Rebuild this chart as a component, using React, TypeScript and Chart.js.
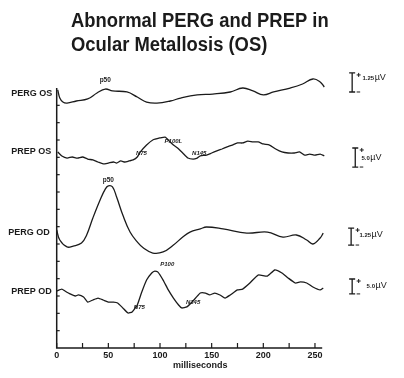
import React, { useEffect, useRef } from "react";
import { Chart, registerables } from "chart.js";

Chart.register(...registerables);

// ---- data (x in milliseconds, y in axis-tick units from the x-axis) ----
const pergOsMs = [1, 3, 6, 10, 19, 30, 39, 47, 54, 68, 78, 87, 97, 110, 120, 136, 151, 168, 180, 190, 200, 210, 226, 238, 248, 255, 259];
const pergOsVal = [14.89, 14.42, 14.19, 14.13, 14.25, 14.37, 14.71, 14.94, 14.83, 14.77, 14.48, 14.19, 14.13, 14.25, 14.42, 14.6, 14.65, 14.77, 15.0, 14.83, 14.6, 14.77, 15.0, 15.23, 15.52, 15.35, 15.06];

const prepOsMs = [1, 5, 10, 15, 20, 25, 30, 35, 40, 45, 50, 55, 58, 62, 66, 70, 74, 78, 81, 87, 93, 100, 105, 108, 113, 117, 122, 127, 132, 136, 139, 145, 150, 155, 160, 165, 170, 175, 180, 185, 190, 195, 200, 206, 212, 218, 224, 230, 235, 240, 245, 250, 255, 259];
const prepOsVal = [11.31, 11.08, 10.96, 11.02, 10.96, 11.02, 10.9, 10.85, 10.73, 10.62, 10.67, 10.73, 10.67, 10.79, 10.73, 10.79, 10.85, 11.02, 11.31, 11.71, 12.0, 12.12, 12.17, 12.0, 11.71, 11.54, 11.25, 10.96, 10.9, 10.96, 11.08, 11.13, 11.25, 11.37, 11.48, 11.6, 11.71, 11.83, 11.83, 11.94, 11.89, 11.89, 11.77, 11.71, 11.48, 11.31, 11.25, 11.25, 11.31, 11.13, 11.19, 11.13, 11.19, 11.08];

const pergOdMs = [0, 3, 10, 16, 24, 29, 35, 42, 47, 50, 54, 58, 64, 71, 78, 84, 93, 103, 113, 122, 129, 139, 145, 161, 184, 204, 219, 232, 242, 248, 255, 258];
const pergOdVal = [6.81, 6.23, 5.83, 5.88, 6.06, 6.52, 7.5, 8.54, 9.17, 9.35, 9.29, 8.71, 7.67, 6.69, 6.12, 5.77, 5.48, 5.54, 5.94, 6.4, 6.69, 6.87, 6.98, 6.87, 6.63, 6.69, 6.4, 6.52, 6.23, 6.0, 6.35, 6.63];

const prepOdMs = [0, 5, 8, 13, 18, 21, 26, 30, 35, 40, 45, 50, 55, 59, 64, 69, 73, 78, 82, 87, 92, 95, 98, 103, 108, 113, 118, 121, 126, 131, 139, 144, 148, 153, 158, 163, 168, 175, 180, 187, 195, 204, 211, 218, 224, 231, 236, 242, 248, 255, 258];
const prepOdVal = [3.29, 3.4, 3.29, 3.12, 3.0, 3.06, 2.94, 2.65, 2.77, 2.88, 2.77, 2.65, 2.65, 2.6, 2.31, 2.02, 2.08, 2.48, 3.17, 3.92, 4.33, 4.44, 4.38, 3.92, 3.35, 2.88, 2.48, 2.31, 2.37, 2.65, 3.17, 3.17, 3.06, 3.17, 3.06, 2.88, 3.06, 3.35, 3.4, 3.75, 4.21, 4.15, 4.5, 4.33, 4.04, 3.75, 3.81, 3.75, 3.52, 3.35, 3.46];

const xTicks = [0, 25, 50, 75, 100, 125, 150, 175, 200, 225, 250];
const xTickLabels = [0, 50, 100, 150, 200, 250];
const yTicks = [1, 2, 3, 4, 5, 6, 7, 8, 9, 10, 11, 12, 13, 14];

const traceNames = ["PERG OS", "PREP OS", "PERG OD", "PREP OD"];
const peakNames = ["p50", "P100L", "N75", "N145", "p50", "P100", "N75", "N145"];
const scaleBarNames = ["1.25", "5.0", "1.25", "5.0"];

const titleLines = ["Abnormal PERG and PREP in", "Ocular Metallosis (OS)"];
const xAxisTitle = "milliseconds";

// ---- layout (not data) ----
const traceLabelPos = [
  { x: -44, y: 14.68 },
  { x: -44, y: 11.31 },
  { x: -47, y: 6.69 },
  { x: -44, y: 3.23 },
];
const peakPos = [
  { x: 47, y: 15.46 },
  { x: 113, y: 11.94 },
  { x: 82, y: 11.25 },
  { x: 138, y: 11.25 },
  { x: 50, y: 9.69 },
  { x: 107, y: 4.85 },
  { x: 80, y: 2.37 },
  { x: 132, y: 2.65 },
];
const scaleBarPos = [
  { x: 286, top: 15.87, bottom: 14.77, lx: 296, ly: 15.63 },
  { x: 289, top: 11.54, bottom: 10.44, lx: 295, ly: 11.02 },
  { x: 285, top: 6.92, bottom: 5.94, lx: 293, ly: 6.58 },
  { x: 286, top: 3.98, bottom: 3.12, lx: 300, ly: 3.63 },
];

const INK = "#1b1b1b";
const FONT = "'Liberation Sans', Arial, Helvetica, sans-serif";

const overlay = {
  id: "overlay",
  afterDraw(chart: any) {
    const { ctx } = chart;
    const xs = chart.scales.x;
    const ys = chart.scales.y;
    const X = (v: number) => xs.getPixelForValue(v);
    const Y = (v: number) => ys.getPixelForValue(v);
    ctx.save();
    ctx.fillStyle = INK;
    ctx.strokeStyle = INK;

    // title
    ctx.font = `bold 20px ${FONT}`;
    ctx.textAlign = "left";
    ctx.textBaseline = "alphabetic";
    titleLines.forEach((t, i) => {
      ctx.save();
      ctx.translate(71, 27 + i * 24);
      ctx.scale(0.92, 1);
      ctx.fillText(t, 0, 0);
      ctx.restore();
    });

    // axes
    ctx.lineWidth = 1.5;
    ctx.beginPath();
    ctx.moveTo(X(0), Y(15));
    ctx.lineTo(X(0), Y(0));
    ctx.lineTo(X(257), Y(0));
    ctx.stroke();
    ctx.lineWidth = 1.2;
    yTicks.forEach((v) => {
      ctx.beginPath();
      ctx.moveTo(X(0), Y(v));
      ctx.lineTo(X(0) + 3, Y(v));
      ctx.stroke();
    });
    xTicks.forEach((v) => {
      ctx.beginPath();
      ctx.moveTo(X(v), Y(0));
      ctx.lineTo(X(v), Y(0) - 5);
      ctx.stroke();
    });

    // x tick labels + title
    ctx.font = `bold 9px ${FONT}`;
    ctx.textAlign = "center";
    xTickLabels.forEach((v) => ctx.fillText(String(v), X(v), Y(0) + 10));
    ctx.fillText(xAxisTitle, X(139), Y(0) + 20);

    // trace labels
    ctx.textAlign = "left";
    ctx.textBaseline = "middle";
    traceNames.forEach((t, i) => ctx.fillText(t, X(traceLabelPos[i].x), Y(traceLabelPos[i].y)));

    // peak labels
    peakNames.forEach((t, i) => {
      ctx.font = i === 0 || i === 4 ? `bold 6.5px ${FONT}` : `italic bold 6px ${FONT}`;
      ctx.textAlign = "center";
      ctx.fillText(t, X(peakPos[i].x), Y(peakPos[i].y));
    });

    // scale bars
    scaleBarNames.forEach((t, i) => {
      const b = scaleBarPos[i];
      const bx = X(b.x);
      const t0 = Y(b.top);
      const b0 = Y(b.bottom);
      ctx.lineWidth = 1.3;
      ctx.beginPath();
      ctx.moveTo(bx, t0);
      ctx.lineTo(bx, b0);
      ctx.moveTo(bx - 3, t0);
      ctx.lineTo(bx + 3, t0);
      ctx.moveTo(bx - 3, b0);
      ctx.lineTo(bx + 3, b0);
      ctx.stroke();
      ctx.lineWidth = 1;
      // plus sign
      ctx.beginPath();
      ctx.moveTo(bx + 4.5, t0 + 2);
      ctx.lineTo(bx + 8.5, t0 + 2);
      ctx.moveTo(bx + 6.5, t0);
      ctx.lineTo(bx + 6.5, t0 + 4);
      // minus sign
      ctx.moveTo(bx + 4.5, b0);
      ctx.lineTo(bx + 8, b0);
      ctx.stroke();
      ctx.textAlign = "left";
      ctx.textBaseline = "alphabetic";
      ctx.font = `bold 6px ${FONT}`;
      const lx = X(b.lx);
      const ly = Y(b.ly) + 3;
      ctx.fillText(t, lx, ly);
      const w = ctx.measureText(t).width;
      ctx.font = `9px ${FONT}`;
      ctx.fillText("\u00b5V", lx + w + 0.5, ly);
    });

    ctx.restore();
  },
};

export default function App() {
  const ref = useRef<HTMLCanvasElement | null>(null);
  useEffect(() => {
    if (!ref.current) return;
    const mk = (ms: number[], vals: number[], tension: number) => ({
      data: ms.map((m, i) => ({ x: m, y: vals[i] })),
      borderColor: INK,
      borderWidth: 1.3,
      pointRadius: 0,
      fill: false,
      tension,
    });
    const chart = new Chart(ref.current, {
      type: "line",
      data: {
        datasets: [
          mk(pergOsMs, pergOsVal, 0.4),
          mk(prepOsMs, prepOsVal, 0.2),
          mk(pergOdMs, pergOdVal, 0.4),
          mk(prepOdMs, prepOdVal, 0.15),
        ],
      },
      options: {
        animation: false,
        responsive: false,
        events: [],
        layout: { padding: { left: 56.7, right: 78.7, top: 70.67, bottom: 30 }, autoPadding: false } as any,
        plugins: { legend: { display: false }, tooltip: { enabled: false }, title: { display: false } },
        scales: {
          x: { type: "linear", min: 0, max: 260, display: false },
          y: { type: "linear", min: 0, max: 16, display: false },
        },
      },
      plugins: [overlay],
    });
    return () => chart.destroy();
  }, []);
  return (
    <div style={{ position: "absolute", left: 0, top: 0, width: 404, height: 378, background: "#fff" }}>
      <canvas ref={ref} width={404} height={378} style={{ width: 404, height: 378 }} />
    </div>
  );
}
